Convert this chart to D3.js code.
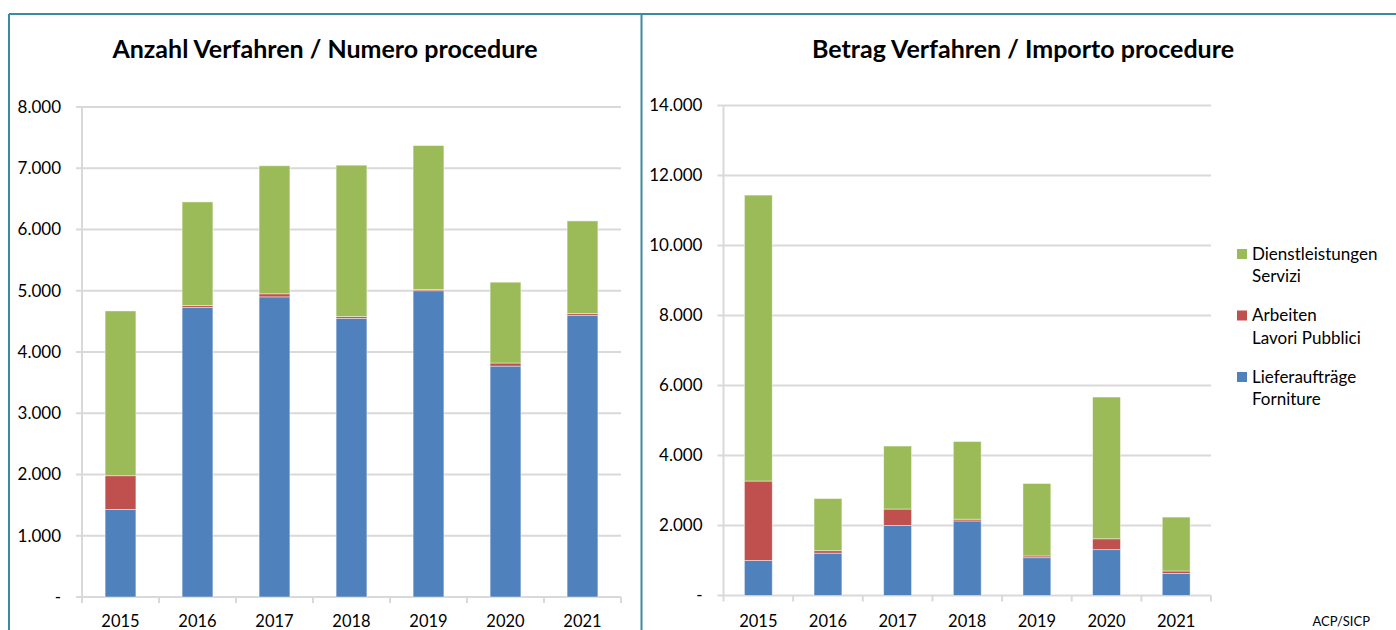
<!DOCTYPE html>
<meta charset="utf-8" />
<html lang="de">
  <head>
    <script src="https://d3js.org/d3.v7.min.js"></script>
    <style>
      body {
        margin: 0;
        background: #fff;
      }
      svg text {
        font-family: Lato, "Open Sans", sans-serif;
        fill: #000;
      }
      .grid line {
        stroke: #d9d9d9;
        stroke-width: 2px;
      }
      .title {
        font-weight: bold;
        font-size: 25px;
      }
    </style>
  </head>
  <body>
    <svg width="1396" height="630"></svg>
    <script>
      var years = ["2015", "2016", "2017", "2018", "2019", "2020", "2021"];

      // Anzahl Verfahren / Numero procedure (Anzahl)
      var countForniture = [1430, 4730, 4900, 4550, 5000, 3770, 4600];
      var countLavori = [550, 30, 50, 30, 20, 50, 30];
      var countServizi = [2690, 1690, 2090, 2470, 2350, 1320, 1510];

      // Betrag Verfahren / Importo procedure
      var amountForniture = [1000, 1210, 2000, 2130, 1080, 1310, 630];
      var amountLavori = [2270, 70, 470, 50, 50, 310, 70];
      var amountServizi = [8170, 1490, 1800, 2220, 2070, 4050, 1540];

      var countTicks = [0, 1000, 2000, 3000, 4000, 5000, 6000, 7000, 8000];
      var amountTicks = [0, 2000, 4000, 6000, 8000, 10000, 12000, 14000];

      var seriesKeys = ["forniture", "lavori", "servizi"];
      var colors = { forniture: "#4f81bd", lavori: "#c0504d", servizi: "#9bbb59" };
      var legendItems = [
        { key: "servizi", lines: ["Dienstleistungen", "Servizi"] },
        { key: "lavori", lines: ["Arbeiten", "Lavori Pubblici"] },
        { key: "forniture", lines: ["Lieferaufträge", "Forniture"] }
      ];

      var svg = d3.select("svg");

      // panel frame
      var frame = svg.append("g").attr("fill", "none").attr("stroke", "#3a8ba1").attr("stroke-width", 2);
      frame.append("line").attr("x1", 9).attr("x2", 1396).attr("y1", 14).attr("y2", 14);
      frame.append("line").attr("x1", 9).attr("x2", 9).attr("y1", 14).attr("y2", 630);
      frame.append("line").attr("x1", 641.5).attr("x2", 641.5).attr("y1", 14).attr("y2", 630);

      // german number format: 8.000
      var fmt = function(v) {
        if (v === 0) return "-";
        return d3.format(",")(v).replace(/,/g, ".");
      };

      function buildTable(a, b, c) {
        return years.map(function(y, i) {
          return { year: y, forniture: a[i], lavori: b[i], servizi: c[i] };
        });
      }

      function drawChart(opts) {
        var g = svg.append("g");
        var x = d3.scaleBand().domain(years).range([opts.x0, opts.x1]).paddingInner(0.6).paddingOuter(0.3);
        var xBands = d3.scaleBand().domain(years).range([opts.x0, opts.x1]);
        var y = d3.scaleLinear().domain([0, opts.max]).range([opts.y0, opts.y1]);

        g.append("text")
          .attr("class", "title")
          .attr("x", opts.titleX)
          .attr("y", 52)
          .attr("text-anchor", "middle")
          .attr("dominant-baseline", "middle")
          .text(opts.title);

        // gridlines + axis ticks
        var grid = g.append("g").attr("class", "grid");
        grid.selectAll("line.h")
          .data(opts.ticks)
          .enter()
          .append("line")
          .attr("x1", opts.x0 - 6)
          .attr("x2", opts.x1)
          .attr("y1", d => y(d))
          .attr("y2", d => y(d));
        grid.append("line").attr("x1", opts.x0).attr("x2", opts.x0).attr("y1", y(opts.max)).attr("y2", opts.y0 + 6);
        grid.selectAll("line.v")
          .data(years)
          .enter()
          .append("line")
          .attr("x1", d => xBands(d) + xBands.bandwidth())
          .attr("x2", d => xBands(d) + xBands.bandwidth())
          .attr("y1", opts.y0)
          .attr("y2", opts.y0 + 6);

        g.append("g")
          .selectAll("text")
          .data(opts.ticks)
          .enter()
          .append("text")
          .attr("x", opts.x0 - 21)
          .attr("y", d => y(d))
          .attr("dy", "0.35em")
          .attr("text-anchor", "end")
          .style("font-size", "17px")
          .text(fmt);

        g.append("g")
          .selectAll("text")
          .data(years)
          .enter()
          .append("text")
          .attr("x", d => xBands(d) + xBands.bandwidth() / 2)
          .attr("y", 621)
          .attr("dy", "0.35em")
          .attr("text-anchor", "middle")
          .style("font-size", "16.5px")
          .text(d => d);

        var stack = d3.stack().keys(seriesKeys)(opts.data);
        g.append("g")
          .selectAll("g")
          .data(stack)
          .enter()
          .append("g")
          .attr("fill", d => colors[d.key])
          .selectAll("rect")
          .data(d => d)
          .enter()
          .append("rect")
          .attr("x", d => x(d.data.year))
          .attr("width", x.bandwidth())
          .attr("y", d => y(d[1]))
          .attr("height", d => y(d[0]) - y(d[1]))
          .attr("stroke", "#fff")
          .attr("stroke-opacity", 0.55)
          .attr("stroke-width", 0.8);
      }

      drawChart({
        title: "Anzahl Verfahren / Numero procedure",
        titleX: 325,
        data: buildTable(countForniture, countLavori, countServizi),
        ticks: countTicks,
        max: 8000,
        x0: 82,
        x1: 621,
        y0: 597,
        y1: 107
      });

      drawChart({
        title: "Betrag Verfahren / Importo procedure",
        titleX: 1023,
        data: buildTable(amountForniture, amountLavori, amountServizi),
        ticks: amountTicks,
        max: 14000,
        x0: 723.5,
        x1: 1211,
        y0: 595.5,
        y1: 105.5
      });

      // legend
      var legend = svg.append("g").attr("transform", "translate(1237,249)");
      var li = legend.selectAll("g")
        .data(legendItems)
        .enter()
        .append("g")
        .attr("transform", (d, i) => "translate(0," + i * 61.5 + ")");
      li.append("rect")
        .attr("width", 10)
        .attr("height", 10)
        .attr("fill", d => colors[d.key]);
      li.append("text")
        .attr("x", 15)
        .attr("y", 5)
        .style("font-size", "17px")
        .selectAll("tspan")
        .data(d => d.lines)
        .enter()
        .append("tspan")
        .attr("x", 15)
        .attr("dy", (d, i) => (i === 0 ? "0.35em" : "1.3em"))
        .text(d => d);

      svg.append("text")
        .attr("x", 1370)
        .attr("y", 621)
        .attr("dy", "0.35em")
        .attr("text-anchor", "end")
        .style("font-size", "13px")
        .text("ACP/SICP");
    </script>
  </body>
</html>
